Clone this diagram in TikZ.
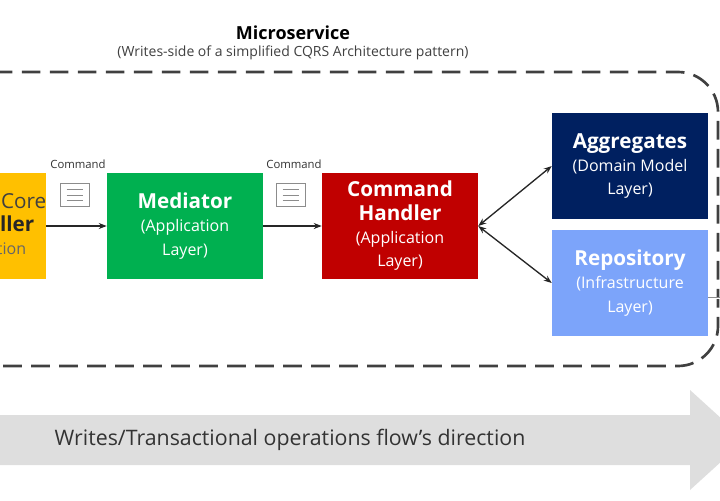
\documentclass[tikz,border=0pt]{standalone}
\usepackage{fontspec}
\setmainfont{Open Sans}
\usetikzlibrary{arrows.meta,positioning}
\definecolor{mgreen}{RGB}{0,176,80}
\definecolor{mred}{RGB}{192,0,0}
\definecolor{mnavy}{RGB}{0,32,96}
\definecolor{mlight}{RGB}{124,164,250}
\definecolor{myellow}{RGB}{255,192,0}
\newcommand{\bigbf}{\fontsize{15.5}{18}\selectfont\bfseries}
\newcommand{\subtx}{\fontsize{12}{17}\selectfont\mdseries}
\tikzset{
  layer/.style={minimum width=117pt, minimum height=80pt, align=center, text=white, inner sep=0pt, font=\fontsize{12}{17.5}\selectfont},
  flow/.style={-{Stealth[length=6pt]}, line width=1pt, black!85},
  doc/.style={draw=black!45, fill=white, minimum width=22pt, minimum height=17pt, inner sep=0pt},
}
\begin{document}
\begin{tikzpicture}[x=0.75pt,y=-0.75pt]
  \useasboundingbox (0,0) rectangle (720,500);
  \clip (0,0) rectangle (720,500);
  % Titles
  \node[font=\fontsize{13.5}{15}\selectfont\bfseries] (title) at (293,33) {Microservice};
  \node[font=\fontsize{10.5}{12}\selectfont, text=black!75] (subtitle) at (293,53) {(Writes-side of a simplified CQRS Architecture pattern)};
  % Microservice boundary
  \draw[line width=2pt, black!75, dash pattern=on 14pt off 7pt, rounded corners=30pt] (-40,72) rectangle (718,366);
  % Layers
  \node[fill=myellow, minimum width=150pt, minimum height=80pt] (ctrl) at (-54,226) {};
  \node[align=center, inner sep=0pt, font=\fontsize{12}{17.5}\selectfont] (ctrltext) at (-18,226)
    {\bigbf\mdseries\color{black!75}ASP.NET Core\\\bigbf\color{black!85}Controller\\\subtx\color{black!60}(Application};
  \node[layer, fill=mgreen] (mediator) at (185,226) {\bigbf Mediator\\\subtx (Application\\\subtx Layer)};
  \node[layer, fill=mred] (handler) at (400,226) {\bigbf Command\\\bigbf Handler\\\subtx (Application\\\subtx Layer)};
  \node[layer, fill=mnavy] (aggr) at (630,166) {\bigbf Aggregates\\\subtx (Domain Model\\\subtx Layer)};
  \node[layer, fill=mlight] (repo) at (630,283) {\bigbf Repository\\\subtx (Infrastructure\\\subtx Layer)};
  % Connectors
  \draw[flow] (ctrl.east) -- (mediator.west);
  \draw[flow] (mediator.east) -- (handler.west);
  \draw[flow, {Stealth[length=6pt]}-{Stealth[length=6pt]}] (handler.east) -- (aggr.west);
  \draw[flow, {Stealth[length=6pt]}-{Stealth[length=6pt]}] (handler.east) -- (repo.west);
  \coordinate (out) at (725,298);
  \draw[black!45, double, line width=0.8pt] (repo.east |- out) -- (out);
  % Command messages
  \foreach \n/\x in {cmda/75, cmdb/291} {
    \node[doc] (\n) at (\x,195) {};
    \foreach \d in {-4,0,4}
      \draw[black!45] ([xshift=5pt, yshift=\d pt]\n.west) -- ([xshift=-5pt, yshift=\d pt]\n.east);
    \node[font=\fontsize{8.5}{10}\selectfont, text=black!80] at (\x+3,164) {Command};
  }
  % Flow direction arrow
  \fill[black!13] (0,415) -- (690,415) -- (690,390) -- (745,440) -- (690,490) -- (690,465) -- (0,465) -- cycle;
  \node[font=\fontsize{16}{18}\selectfont, text=black!80] (flowtext) at (290,440) {Writes/Transactional operations flow's direction};
\end{tikzpicture}
\end{document}
